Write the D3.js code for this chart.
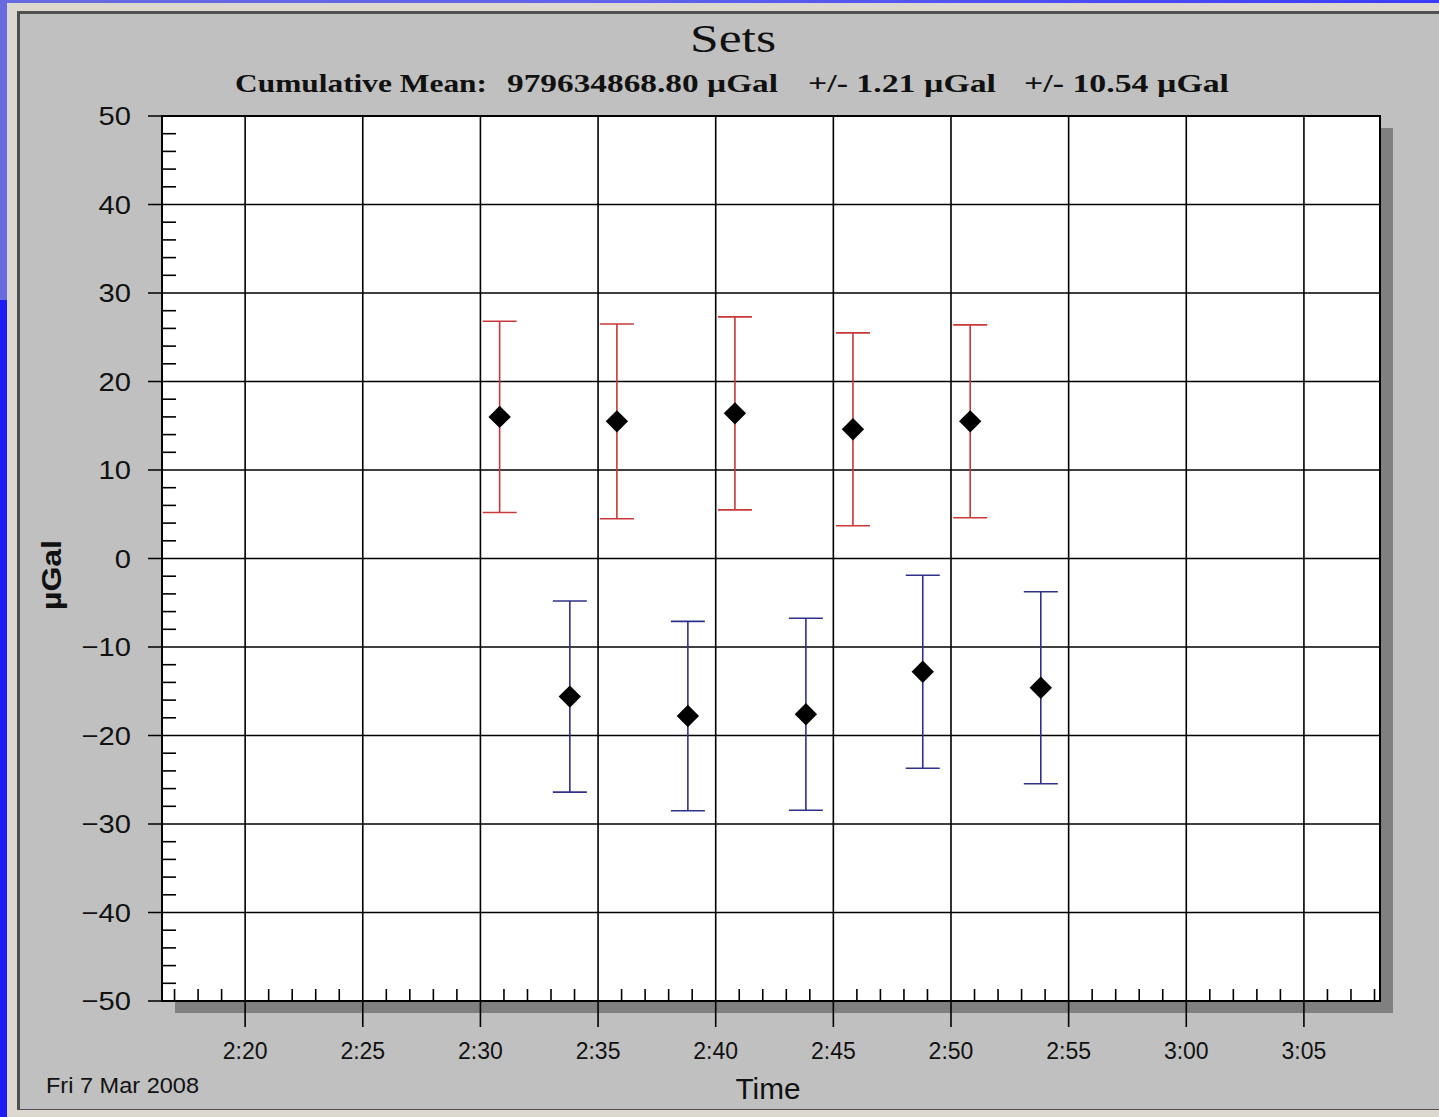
<!DOCTYPE html>
<html>
<head>
<meta charset="utf-8">
<script src="https://cdn.jsdelivr.net/npm/d3@7"></script>
<style>
  html, body { margin: 0; padding: 0; background: #3030f0; }
  svg { display: block; }
</style>
</head>
<body>
<div id="chart"></div>
<script>
// set times, means and half-widths of the error bars
const redTimes = ["2:30:49", "2:35:48", "2:40:49", "2:45:50", "2:50:49"];
const redMeans = [16.0, 15.5, 16.4, 14.6, 15.5];
const redErr = [10.8, 11.0, 10.9, 10.9, 10.9];

const blueTimes = ["2:33:48", "2:38:49", "2:43:50", "2:48:48", "2:53:49"];
const blueMeans = [-15.6, -17.8, -17.6, -12.8, -14.6];
const blueErr = [10.8, 10.7, 10.85, 10.9, 10.85];

const timeDomain = ["2:16:28", "3:08:14"];
const yDomain = [-50, 50];
const yTicks = [-50, -40, -30, -20, -10, 0, 10, 20, 30, 40, 50];

const titleText = "Sets";
const subtitleParts = ["Cumulative Mean:", "979634868.80 µGal", "+/- 1.21 µGal", "+/- 10.54 µGal"];
const dateText = "Fri 7 Mar 2008";

const W = 1439, H = 1117;
const plot = { left: 162, right: 1380, top: 116, bottom: 1001 };
const parse = d3.timeParse("%H:%M:%S");

const svg = d3.select("#chart").append("svg")
    .attr("width", W)
    .attr("height", H);

// blue slide background
const defs = svg.append("defs");
const grad = defs.append("linearGradient").attr("id", "bg").attr("x1", 0).attr("x2", 1).attr("y1", 0).attr("y2", 0);
grad.append("stop").attr("offset", "0%").attr("stop-color", "#6a6ae0");
grad.append("stop").attr("offset", "45%").attr("stop-color", "#6060ec");
grad.append("stop").attr("offset", "100%").attr("stop-color", "#3c3cfa");
svg.append("rect").attr("width", W).attr("height", H).attr("fill", "url(#bg)");
svg.append("rect").attr("x", 0).attr("y", 300).attr("width", 8).attr("height", H - 300).attr("fill", "#1c1cf4");

// window panel
svg.append("rect").attr("x", 7).attr("y", 3).attr("width", W - 7).attr("height", H - 3).attr("fill", "#dcd8d0");
svg.append("rect").attr("x", 17).attr("y", 11).attr("width", W - 17).attr("height", 1099).attr("fill", "#505050");
svg.append("rect").attr("x", 20).attr("y", 14).attr("width", W - 20).attr("height", 1095).attr("fill", "#c0c0c0");

const x = d3.scaleTime()
    .domain(timeDomain.map(parse))
    .range([plot.left, plot.right]);

const y = d3.scaleLinear()
    .domain(yDomain)
    .range([plot.bottom, plot.top]);

// shadow + plot area
svg.append("rect")
    .attr("x", plot.left + 13).attr("y", plot.top + 12)
    .attr("width", plot.right - plot.left).attr("height", plot.bottom - plot.top)
    .attr("fill", "#808080");
svg.append("rect")
    .attr("x", plot.left).attr("y", plot.top)
    .attr("width", plot.right - plot.left).attr("height", plot.bottom - plot.top)
    .attr("fill", "#ffffff");

const xMajor = x.ticks(d3.timeMinute.every(5));
const xMinor = x.ticks(d3.timeMinute.every(1)).filter(d => d.getMinutes() % 5 !== 0);
const yMinor = d3.range(-50, 51, 2).filter(v => v % 10 !== 0);

const grid = svg.append("g").attr("stroke", "#000").attr("stroke-width", 1.6);

// vertical grid + outer ticks
grid.selectAll(".vx").data(xMajor).enter().append("line")
    .attr("x1", d => x(d)).attr("x2", d => x(d))
    .attr("y1", plot.top).attr("y2", plot.bottom + 26);
// horizontal grid + outer ticks
grid.selectAll(".hy").data(yTicks).enter().append("line")
    .attr("x1", plot.left - 14).attr("x2", plot.right)
    .attr("y1", d => y(d)).attr("y2", d => y(d));
// minor ticks
grid.selectAll(".mx").data(xMinor).enter().append("line")
    .attr("x1", d => x(d)).attr("x2", d => x(d))
    .attr("y1", plot.bottom).attr("y2", plot.bottom - 12);
grid.selectAll(".my").data(yMinor).enter().append("line")
    .attr("x1", plot.left).attr("x2", plot.left + 14)
    .attr("y1", d => y(d)).attr("y2", d => y(d));

// frame
svg.append("rect")
    .attr("x", plot.left).attr("y", plot.top)
    .attr("width", plot.right - plot.left).attr("height", plot.bottom - plot.top)
    .attr("fill", "none").attr("stroke", "#000").attr("stroke-width", 2);

// tick labels
const fmtTime = d3.timeFormat("%-H:%M");
svg.append("g").selectAll("text").data(xMajor).enter().append("text")
    .attr("x", d => x(d)).attr("y", 1059)
    .attr("text-anchor", "middle")
    .style("font-family", "'Liberation Sans', Arial, sans-serif")
    .style("font-size", "23px")
    .style("fill", "#111")
    .text(d => fmtTime(d));

const yLabels = svg.append("g").selectAll("text").data(yTicks).enter().append("text")
    .attr("x", 131).attr("y", d => y(d) + 9)
    .attr("text-anchor", "end")
    .style("font-family", "'Liberation Sans', Arial, sans-serif")
    .style("font-size", "26px")
    .style("fill", "#111")
    .text(d => d3.format("d")(d));
yLabels.each(function() {
    const len = this.getComputedTextLength();
    d3.select(this).attr("textLength", len * 1.12).attr("lengthAdjust", "spacingAndGlyphs");
});

// error bars
function drawSet(times, means, errs, color) {
    const data = times.map((t, i) => ({ t: parse(t), m: means[i], e: errs[i] }));
    const g = svg.append("g").attr("stroke", color).attr("stroke-width", 1.6).attr("fill", "none");
    g.selectAll(".stem").data(data).enter().append("line")
        .attr("x1", d => x(d.t)).attr("x2", d => x(d.t))
        .attr("y1", d => y(d.m + d.e)).attr("y2", d => y(d.m - d.e));
    g.selectAll(".capT").data(data).enter().append("line")
        .attr("x1", d => x(d.t) - 17).attr("x2", d => x(d.t) + 17)
        .attr("y1", d => y(d.m + d.e)).attr("y2", d => y(d.m + d.e));
    g.selectAll(".capB").data(data).enter().append("line")
        .attr("x1", d => x(d.t) - 17).attr("x2", d => x(d.t) + 17)
        .attr("y1", d => y(d.m - d.e)).attr("y2", d => y(d.m - d.e));
    svg.append("g").selectAll("path").data(data).enter().append("path")
        .attr("d", d3.symbol(d3.symbolSquare, 250)())
        .attr("transform", d => `translate(${x(d.t)},${y(d.m)}) rotate(45)`)
        .attr("fill", "#000");
}
drawSet(redTimes, redMeans, redErr, "#c83838");
drawSet(blueTimes, blueMeans, blueErr, "#30308a");

// titles
svg.append("text")
    .attr("x", 733).attr("y", 52)
    .attr("text-anchor", "middle")
    .attr("textLength", 86).attr("lengthAdjust", "spacingAndGlyphs")
    .style("font-family", "'Liberation Serif', 'Times New Roman', serif")
    .style("font-size", "40px")
    .style("fill", "#111")
    .text(titleText);

const subPos = [[235, 487], [507, 778], [808, 996], [1024, 1229]];
svg.append("g").selectAll("text").data(subtitleParts).enter().append("text")
    .attr("x", (d, i) => subPos[i][0]).attr("y", 92)
    .attr("textLength", (d, i) => subPos[i][1] - subPos[i][0])
    .attr("lengthAdjust", "spacingAndGlyphs")
    .style("font-family", "'Liberation Serif', 'Times New Roman', serif")
    .style("font-size", "26px")
    .style("font-weight", "bold")
    .style("fill", "#111")
    .text(d => d);

svg.append("text")
    .attr("transform", "translate(61,575) rotate(-90)")
    .attr("text-anchor", "middle")
    .attr("textLength", 70).attr("lengthAdjust", "spacingAndGlyphs")
    .style("font-family", "'Liberation Sans', Arial, sans-serif")
    .style("font-size", "27px")
    .style("font-weight", "bold")
    .style("fill", "#111")
    .text("µGal");

svg.append("text")
    .attr("x", 768).attr("y", 1099)
    .attr("text-anchor", "middle")
    .attr("textLength", 65).attr("lengthAdjust", "spacingAndGlyphs")
    .style("font-family", "'Liberation Sans', Arial, sans-serif")
    .style("font-size", "29px")
    .style("fill", "#111")
    .text("Time");

svg.append("text")
    .attr("x", 46).attr("y", 1093)
    .attr("textLength", 153).attr("lengthAdjust", "spacingAndGlyphs")
    .style("font-family", "'Liberation Sans', Arial, sans-serif")
    .style("font-size", "22px")
    .style("fill", "#111")
    .text(dateText);
</script>
</body>
</html>
